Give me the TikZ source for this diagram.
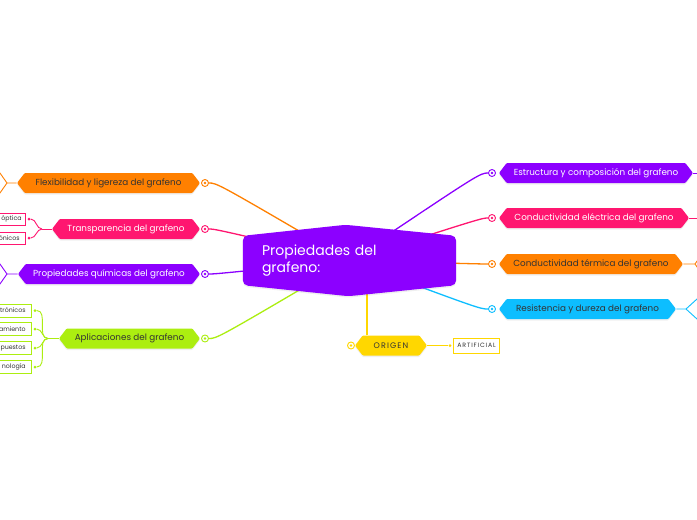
\documentclass[tikz,border=0pt]{standalone}
\usepackage{fontspec}
\setmainfont{Poppins}
\usetikzlibrary{shapes.symbols,shadows,calc}

\definecolor{mmpurple}{HTML}{8C00FF}
\definecolor{mmpink}{HTML}{FF1670}
\definecolor{mmorange}{HTML}{FF8000}
\definecolor{mmcyan}{HTML}{0DBEFF}
\definecolor{mmlime}{HTML}{ACEE10}
\definecolor{mmyellow}{HTML}{FFD700}
\definecolor{textdark}{HTML}{333333}

\pgfdeclarelayer{bg}
\pgfsetlayers{bg,main}

\begin{document}
\begin{tikzpicture}[x=1pt, y=1pt,
  every node/.style={font=\fontsize{8.8}{10}\selectfont},
  topic/.style={signal, signal to=west and east, signal pointer angle=105,
    fill=#1, minimum height=20pt, inner sep=0pt, rounded corners=1pt,
    drop shadow={opacity=0.12, shadow xshift=0pt, shadow yshift=-1.5pt}},
  handle/.style={circle, draw=#1, fill=white, line width=0.9pt,
    minimum size=7pt, inner sep=0pt,
    path picture={\fill[#1] (path picture bounding box.center) circle (1.3pt);}},
  leaf/.style={draw=#1, fill=white, line width=0.8pt, anchor=east,
    inner ysep=0pt, minimum height=12pt, text=textdark,
    font=\fontsize{6.3}{7}\selectfont},
  knot/.style={circle, fill=#1, inner sep=0pt, minimum size=3pt},
  link/.style={draw=#1, line width=1.3pt},
  twig/.style={draw=#1, line width=0.9pt}
]
\useasboundingbox (0,0) rectangle (697,-520);

% central idea
\node[minimum width=213pt, minimum height=49pt, text width=175pt, inner sep=0pt,
  align=left, text=white, font=\fontsize{14}{17.5}\selectfont]
  (ctr) at (349.5,-260.5) {Propiedades del\\grafeno:};

% left branches
\node[topic=mmorange, text=textdark, minimum width=183pt] (flex) at (108.5,-183) {Flexibilidad y ligereza del grafeno};
\node[handle=mmorange] (flex-c) at (205,-183) {};
\node[topic=mmpink, text=white, minimum width=148pt] (trans) at (126,-229) {Transparencia del grafeno};
\node[handle=mmpink] (trans-c) at (205,-229) {};
\node[topic=mmpurple, text=white, minimum width=182pt] (quim) at (109,-274) {Propiedades químicas del grafeno};
\node[handle=mmpurple] (quim-c) at (205,-274) {};
\node[topic=mmlime, text=textdark, minimum width=141pt] (apl) at (129.5,-338.5) {Aplicaciones del grafeno};
\node[handle=mmlime] (apl-c) at (205,-338.5) {};

% right branches
\node[topic=mmpurple, text=white, minimum width=194pt] (estr) at (596,-173) {Estructura y composición del grafeno};
\node[handle=mmpurple] (estr-c) at (492,-173) {};
\node[topic=mmpink, text=white, minimum width=190pt] (elec) at (594,-218) {Conductividad eléctrica del grafeno};
\node[handle=mmpink] (elec-c) at (492,-218) {};
\node[topic=mmorange, text=textdark, minimum width=184pt] (term) at (591,-264) {Conductividad térmica del grafeno};
\node[handle=mmorange] (term-c) at (492,-264) {};
\node[topic=mmcyan, text=textdark, minimum width=177pt] (resis) at (587.5,-309) {Resistencia y dureza del grafeno};
\node[handle=mmcyan] (resis-c) at (492,-309) {};

% origen
\node[topic=mmyellow, text=textdark, minimum width=72pt,
  font=\fontsize{8}{9}\selectfont\addfontfeature{LetterSpace=14}] (origen) at (391,-345.5) {ORIGEN};
\node[handle=mmyellow] (origen-c) at (351,-345.5) {};
\node[knot=mmyellow] (art-k) at (450,-345.5) {};
\node[leaf=mmyellow, anchor=west, minimum height=15pt, inner xsep=4pt,
  font=\fontsize{6.2}{7}\selectfont\addfontfeature{LetterSpace=14}] (art) at (453,-345.5) {ARTIFICIAL};

% children of Transparencia
\node[leaf=mmpink, inner xsep=4pt] (trans-1) at (26,-219) {óptica};
\node[leaf=mmpink, inner xsep=6pt] (trans-2) at (26,-238) {ónicos};
\node[knot=mmpink] (trans-k1) at (29,-219) {};
\node[knot=mmpink] (trans-k2) at (29,-238) {};
\coordinate (trans-j) at (42,-229);

% children of Aplicaciones
\node[leaf=mmlime, inner xsep=6pt, minimum height=13pt] (apl-1) at (32,-310.5) {trónicos};
\node[leaf=mmlime, inner xsep=6pt, minimum height=13pt] (apl-2) at (32,-329) {amiento};
\node[leaf=mmlime, inner xsep=6pt, minimum height=13pt] (apl-3) at (32,-348) {puestos};
\node[leaf=mmlime, inner xsep=6pt, minimum height=13pt] (apl-4) at (32,-367) {nología};
\foreach \i/\y in {1/-310.5,2/-329,3/-348,4/-367}
  \node[knot=mmlime] (apl-k\i) at (35,\y) {};
\coordinate (apl-j) at (48,-338.5);

% junctions of branches that leave the page
\coordinate (flex-j) at (7,-183);
\coordinate (quim-j) at (7,-274);
\coordinate (term-j) at (695,-264);
\coordinate (resis-j) at (686,-309);

\begin{pgfonlayer}{bg}
\fill[white] (0,0) rectangle (697,-520);
% links to the central idea
\draw[link=mmorange] (flex-c) .. controls +(12,0) .. (ctr.center);
\draw[link=mmpink] (trans-c) .. controls +(10,0) .. (ctr.center);
\draw[link=mmpurple] (quim-c) .. controls +(10,0) .. (ctr.center);
\draw[link=mmlime] (apl-c) .. controls +(12,0) .. (ctr.center);
\draw[link=mmpurple] (estr-c) .. controls +(-12,0) .. (ctr.center);
\draw[link=mmpink] (elec-c) .. controls +(-10,0) .. (ctr.center);
\draw[link=mmorange] (term-c) .. controls +(-10,0) .. (ctr.center);
\draw[link=mmcyan] (resis-c) .. controls +(-12,0) .. (ctr.center);
\draw[link=mmyellow] ($(origen.north)+(-24,0)$) -- ($(ctr.south)+(17.5,0)$);
% central shape
\fill[mmpurple, rounded corners=5pt,
  drop shadow={opacity=0.12, shadow xshift=0pt, shadow yshift=-1.5pt}]
  (ctr.north west) -- ($(ctr.north)+(-4,11)$) -- (ctr.north east)
  -- (ctr.south east) -- ($(ctr.south)+(-1,-11)$) -- (ctr.south west) -- cycle;
% twigs
\draw[twig=mmpink] (trans.west) -- (trans-j);
\draw[twig=mmpink] (trans-j) to[out=180,in=0] (trans-k1);
\draw[twig=mmpink] (trans-j) to[out=180,in=0] (trans-k2);
\draw[twig=mmlime] (apl.west) -- (apl-j);
\foreach \i in {1,...,4}
  \draw[twig=mmlime] (apl-j) to[out=180,in=0] (apl-k\i);
\draw[twig=mmyellow] (origen.east) -- (art-k);
\draw[twig=mmorange] (flex.west) -- (flex-j) -- ++(-12,17) (flex-j) -- ++(-12,-17);
\draw[twig=mmpurple] (quim.west) -- (quim-j) -- ++(-12,17) (quim-j) -- ++(-12,-17);
\draw[twig=mmpurple] (estr.east) -- ++(15,0);
\draw[twig=mmpink] (elec.east) -- ++(15,0);
\draw[twig=mmorange] (term.east) -- (term-j) -- ++(12,17) (term-j) -- ++(12,-17);
\draw[twig=mmcyan] (resis.east) -- (resis-j) -- ++(22,20) (resis-j) -- ++(22,-20);
\end{pgfonlayer}
\end{tikzpicture}
\end{document}
